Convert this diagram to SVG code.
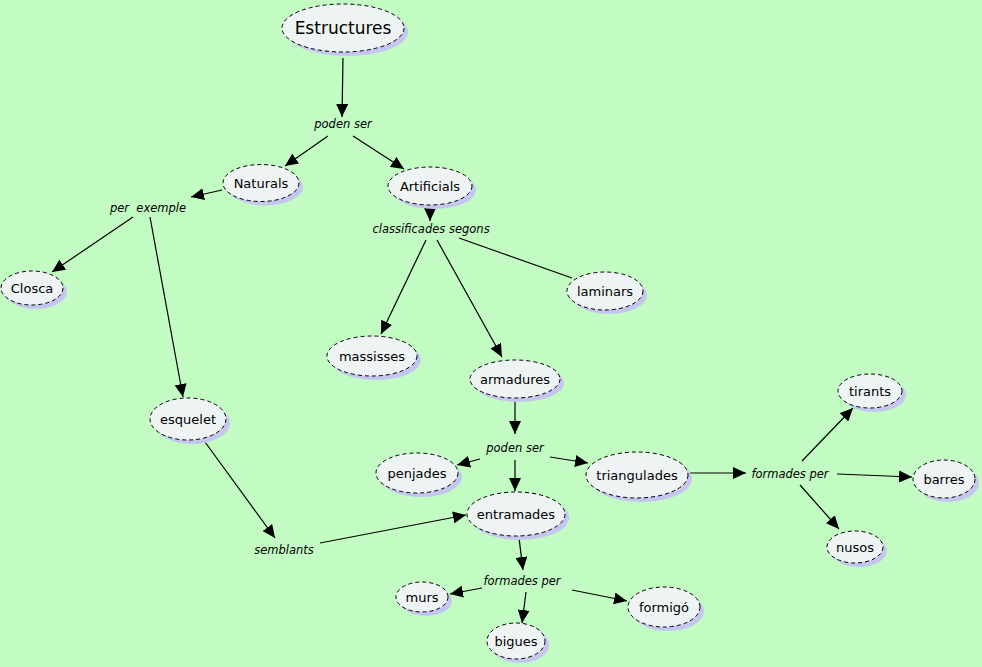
<svg xmlns="http://www.w3.org/2000/svg" width="982" height="667" viewBox="0 0 982 667">
<style>
.sh{fill:#c4c6f0}
.nd{fill:#eef4f4;stroke:#000;stroke-width:1;stroke-dasharray:4,3}
.t{font-family:"DejaVu Sans",Verdana,sans-serif;font-size:13px;fill:#000;text-anchor:middle}
.tt{font-family:"DejaVu Sans",sans-serif;font-size:17px;fill:#000;text-anchor:middle}
.lk{font-family:"DejaVu Sans",Verdana,sans-serif;font-size:11.5px;font-style:italic;fill:#000;text-anchor:middle}
.c line{stroke:#000;stroke-width:1.2;fill:none}
</style>
<defs>
<marker id="a" markerUnits="userSpaceOnUse" markerWidth="14" markerHeight="12" refX="13" refY="6" orient="auto">
<path d="M0,0 L13,6 L0,12 Z" fill="#000"/>
</marker>
</defs>
<rect width="982" height="667" fill="#c2fcc2"/>
<g class="c">
<line x1="343" y1="58" x2="342" y2="117" marker-end="url(#a)"/>
<line x1="328" y1="136" x2="285" y2="166" marker-end="url(#a)"/>
<line x1="353" y1="136" x2="404" y2="169" marker-end="url(#a)"/>
<line x1="222" y1="190" x2="191" y2="197" marker-end="url(#a)"/>
<line x1="133" y1="217" x2="52" y2="272" marker-end="url(#a)"/>
<line x1="150" y1="217" x2="183" y2="397" marker-end="url(#a)"/>
<line x1="430" y1="208" x2="430" y2="221" marker-end="url(#a)"/>
<line x1="426" y1="240" x2="381" y2="334" marker-end="url(#a)"/>
<line x1="437" y1="240" x2="502" y2="357" marker-end="url(#a)"/>
<line x1="459" y1="238" x2="572" y2="278"/>
<line x1="515" y1="402" x2="515" y2="434" marker-end="url(#a)"/>
<line x1="480" y1="459" x2="457" y2="465" marker-end="url(#a)"/>
<line x1="515" y1="460" x2="515" y2="491" marker-end="url(#a)"/>
<line x1="550" y1="457" x2="588" y2="463" marker-end="url(#a)"/>
<line x1="690" y1="473" x2="746" y2="473" marker-end="url(#a)"/>
<line x1="802" y1="461" x2="853" y2="408" marker-end="url(#a)"/>
<line x1="837" y1="474" x2="912" y2="477" marker-end="url(#a)"/>
<line x1="800" y1="485" x2="839" y2="529" marker-end="url(#a)"/>
<line x1="205" y1="442" x2="275" y2="538" marker-end="url(#a)"/>
<line x1="320" y1="543" x2="466" y2="515" marker-end="url(#a)"/>
<line x1="519" y1="538" x2="523" y2="570" marker-end="url(#a)"/>
<line x1="482" y1="588" x2="450" y2="594" marker-end="url(#a)"/>
<line x1="526" y1="592" x2="522" y2="623" marker-end="url(#a)"/>
<line x1="572" y1="590" x2="627" y2="601" marker-end="url(#a)"/>
</g>
<g class="lk">
<text x="343" y="128">poden ser</text>
<text x="148" y="212" xml:space="preserve">per  exemple</text>
<text x="431" y="233">classificades segons</text>
<text x="515" y="452">poden ser</text>
<text x="790" y="478">formades per</text>
<text x="284" y="554">semblants</text>
<text x="522" y="585">formades per</text>
</g>
<g id="n-estructures"><ellipse class="sh" cx="347" cy="32" rx="61" ry="24"/><ellipse class="nd" cx="343" cy="28" rx="61" ry="24"/><text class="tt" x="343" y="34">Estructures</text></g>
<g id="n-naturals"><ellipse class="sh" cx="265" cy="187" rx="38" ry="18.5"/><ellipse class="nd" cx="261" cy="183" rx="38" ry="18.5"/><text class="t" x="261" y="188">Naturals</text></g>
<g id="n-artificials"><ellipse class="sh" cx="434" cy="190" rx="42" ry="19"/><ellipse class="nd" cx="430" cy="186" rx="42" ry="19"/><text class="t" x="430" y="191">Artificials</text></g>
<g id="n-closca"><ellipse class="sh" cx="36" cy="292" rx="31" ry="17"/><ellipse class="nd" cx="32" cy="288" rx="31" ry="17"/><text class="t" x="32" y="293">Closca</text></g>
<g id="n-esquelet"><ellipse class="sh" cx="192" cy="423" rx="38" ry="21"/><ellipse class="nd" cx="188" cy="419" rx="38" ry="21"/><text class="t" x="188" y="424">esquelet</text></g>
<g id="n-massisses"><ellipse class="sh" cx="376" cy="360" rx="45" ry="20"/><ellipse class="nd" cx="372" cy="356" rx="45" ry="20"/><text class="t" x="372" y="361">massisses</text></g>
<g id="n-laminars"><ellipse class="sh" cx="609" cy="295" rx="38" ry="19"/><ellipse class="nd" cx="605" cy="291" rx="38" ry="19"/><text class="t" x="605" y="296">laminars</text></g>
<g id="n-armadures"><ellipse class="sh" cx="519" cy="383" rx="45" ry="19"/><ellipse class="nd" cx="515" cy="379" rx="45" ry="19"/><text class="t" x="515" y="384">armadures</text></g>
<g id="n-penjades"><ellipse class="sh" cx="421" cy="477" rx="41" ry="20"/><ellipse class="nd" cx="417" cy="473" rx="41" ry="20"/><text class="t" x="417" y="478">penjades</text></g>
<g id="n-triangulades"><ellipse class="sh" cx="641" cy="479" rx="51" ry="23"/><ellipse class="nd" cx="637" cy="475" rx="51" ry="23"/><text class="t" x="637" y="480">triangulades</text></g>
<g id="n-entramades"><ellipse class="sh" cx="520" cy="518" rx="49" ry="22"/><ellipse class="nd" cx="516" cy="514" rx="49" ry="22"/><text class="t" x="516" y="519">entramades</text></g>
<g id="n-tirants"><ellipse class="sh" cx="874" cy="395" rx="32" ry="17"/><ellipse class="nd" cx="870" cy="391" rx="32" ry="17"/><text class="t" x="870" y="396">tirants</text></g>
<g id="n-barres"><ellipse class="sh" cx="948" cy="483" rx="31" ry="19"/><ellipse class="nd" cx="944" cy="479" rx="31" ry="19"/><text class="t" x="944" y="484">barres</text></g>
<g id="n-nusos"><ellipse class="sh" cx="859" cy="551" rx="28" ry="16"/><ellipse class="nd" cx="855" cy="547" rx="28" ry="16"/><text class="t" x="855" y="552">nusos</text></g>
<g id="n-murs"><ellipse class="sh" cx="426" cy="601" rx="26" ry="15"/><ellipse class="nd" cx="422" cy="597" rx="26" ry="15"/><text class="t" x="422" y="602">murs</text></g>
<g id="n-bigues"><ellipse class="sh" cx="520" cy="645" rx="29" ry="18"/><ellipse class="nd" cx="516" cy="641" rx="29" ry="18"/><text class="t" x="516" y="646">bigues</text></g>
<g id="n-formigo"><ellipse class="sh" cx="668" cy="611" rx="36" ry="20"/><ellipse class="nd" cx="664" cy="607" rx="36" ry="20"/><text class="t" x="664" y="612">formigó</text></g>
</svg>
